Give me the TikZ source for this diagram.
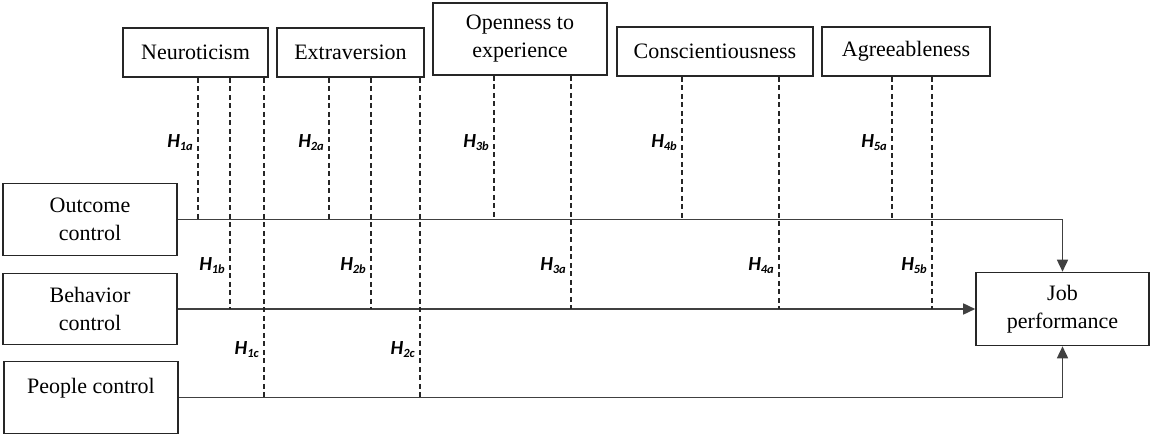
\documentclass[tikz,border=0pt]{standalone}
\usepackage{fontspec}
\setmainfont{Liberation Serif}
\newfontfamily\hfont{Carlito}
\usetikzlibrary{arrows.meta}
\newcommand\Hlab[1]{H\raisebox{-3pt}{\fontsize{12.5}{12.5}\selectfont #1}}
\begin{document}
\begin{tikzpicture}[x=1pt,y=-1pt,
  box/.style={draw=black!85,line width=1.6pt,align=center,inner sep=0pt,
    font=\fontsize{22}{28}\selectfont},
  conn/.style={draw=black!75,line width=1.6pt},
  arr/.style={conn,-{Triangle[length=12pt,width=11pt]}},
  hline/.style={draw=black!85,line width=1.25pt,dash pattern=on 5pt off 3.5pt},
  lab/.style={anchor=east,inner sep=0pt,font=\hfont\bfseries\itshape\fontsize{20}{20}\selectfont}]
\useasboundingbox (0,0) rectangle (1150,435);
% personality boxes
\node[box,minimum width=145pt,minimum height=49pt] (neu) at (195.5,52.5) {Neuroticism};
\node[box,minimum width=147pt,minimum height=49pt] (ext) at (350.5,52.5) {Extraversion};
\node[box,minimum width=174pt,minimum height=72pt] (ope) at (520,39) {Openness to\\experience};
\node[box,minimum width=196pt,minimum height=49pt] (con) at (715,51.5) {Conscientiousness};
\node[box,minimum width=168pt,minimum height=49pt] (agr) at (906,51.5) {Agreeableness};
% control boxes
\node[box,minimum width=174pt,minimum height=72pt] (out) at (90,219.5) {Outcome\\control};
\node[box,minimum width=174pt,minimum height=71pt] (beh) at (90,309) {Behavior\\control};
\node[box,minimum width=174pt,minimum height=72pt] (peo) at (91,397.5) {\raisebox{4pt}[0pt][0pt]{People control}};
\node[box,minimum width=173pt,minimum height=73pt] (job) at (1062.5,309) {Job\\performance};
% main connectors
\draw[arr] (out.east) -| (job.north);
\draw[arr] (beh.east) -- (job.west);
\draw[arr] (peo.east) -| (job.south);
% moderating dashed lines
\draw[hline] (198,0 |- neu.south) -- (198,0 |- out.east);
\draw[hline] (230,0 |- neu.south) -- (230,0 |- beh.east);
\draw[hline] (264,0 |- neu.south) -- (264,0 |- peo.east);
\draw[hline] (329,0 |- ext.south) -- (329,0 |- out.east);
\draw[hline] (371,0 |- ext.south) -- (371,0 |- beh.east);
\draw[hline] (420,0 |- ext.south) -- (420,0 |- peo.east);
\draw[hline] (494,0 |- ope.south) -- (494,0 |- out.east);
\draw[hline] (571,0 |- ope.south) -- (571,0 |- beh.east);
\draw[hline] (682,0 |- con.south) -- (682,0 |- out.east);
\draw[hline] (779,0 |- con.south) -- (779,0 |- beh.east);
\draw[hline] (892,0 |- agr.south) -- (892,0 |- out.east);
\draw[hline] (932,0 |- agr.south) -- (932,0 |- beh.east);
% labels
\node[lab] (l1a) at (193,143) {\Hlab{1a}};
\node[lab] (l2a) at (324,143) {\Hlab{2a}};
\node[lab] (l3b) at (489,143) {\Hlab{3b}};
\node[lab] (l4b) at (677,143) {\Hlab{4b}};
\node[lab] (l5a) at (887,143) {\Hlab{5a}};
\node[lab] (l1b) at (225,266) {\Hlab{1b}};
\node[lab] (l2b) at (366,266) {\Hlab{2b}};
\node[lab] (l3a) at (566,266) {\Hlab{3a}};
\node[lab] (l4a) at (774,266) {\Hlab{4a}};
\node[lab] (l5b) at (927,266) {\Hlab{5b}};
\node[lab] (l1c) at (259,350) {\Hlab{1c}};
\node[lab] (l2c) at (415,350) {\Hlab{2c}};
\end{tikzpicture}
\end{document}
